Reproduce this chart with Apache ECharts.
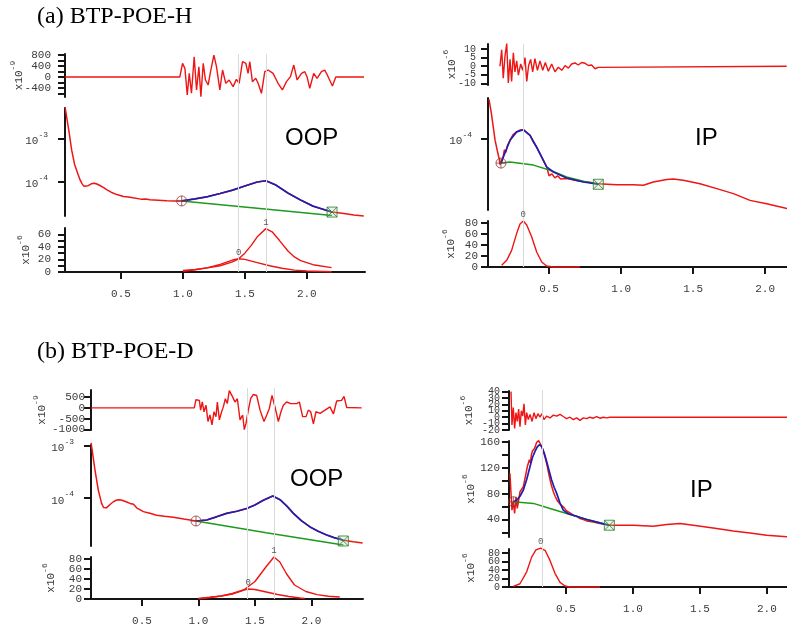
<!DOCTYPE html>
<html><head><meta charset="utf-8">
<script src="https://cdn.jsdelivr.net/npm/echarts@6/dist/echarts.min.js"></script>
<style>html,body{margin:0;padding:0;background:#fff}#c{width:787px;height:635px}</style>
</head><body><div id="c"></div>
<script>
// ---------------- DATA ----------------
const xTickValues = [0.5, 1.0, 1.5, 2.0];

// (a) BTP-POE-H, OOP
const aOopResidual = [[0.05,0],[0.975,0],[0.997,497],[1.016,315],[1.035,-655],[1.051,133],[1.069,-594],[1.091,739],[1.110,-473],[1.129,376],[1.145,-715],[1.164,497],[1.182,-109],[1.204,-291],[1.223,194],[1.250,800],[1.271,376],[1.298,-473],[1.320,255],[1.346,-230],[1.373,-109],[1.405,-352],[1.432,-85],[1.454,-230],[1.481,558],[1.508,497],[1.526,133],[1.540,558],[1.561,-170],[1.588,-48],[1.607,-230],[1.634,-594],[1.661,194],[1.688,255],[1.728,133],[1.768,-230],[1.803,-473],[1.836,-170],[1.868,12],[1.895,436],[1.922,-109],[1.957,133],[1.984,194],[2.002,12],[2.024,-412],[2.056,133],[2.083,-48],[2.118,194],[2.145,255],[2.172,12],[2.207,-327],[2.234,0],[2.462,0]];
const aOopData = [[0.050,5.2e-3],[0.080,1.5e-3],[0.102,5.5e-4],[0.125,2.6e-4],[0.150,1.6e-4],[0.170,1.12e-4],[0.185,9.2e-5],[0.200,8.0e-5],[0.215,7.7e-5],[0.235,8.2e-5],[0.260,9.1e-5],[0.285,9.4e-5],[0.305,9.0e-5],[0.330,8.3e-5],[0.360,7.4e-5],[0.387,6.6e-5],[0.420,5.8e-5],[0.467,5.1e-5],[0.520,4.6e-5],[0.560,4.5e-5],[0.596,4.3e-5],[0.660,4.0e-5],[0.700,4.05e-5],[0.733,3.85e-5],[0.800,3.75e-5],[0.871,3.65e-5],[0.930,3.6e-5],[0.990,3.63e-5],[1.1,4.07e-5],[1.2,4.57e-5],[1.3,5.4e-5],[1.4,6.46e-5],[1.5,8.1e-5],[1.6,1.0e-4],[1.67,1.07e-4],[1.75,8.5e-5],[1.85,5.5e-5],[1.95,3.8e-5],[2.05,2.75e-5],[2.15,2.24e-5],[2.204,2.0e-5],[2.30,1.85e-5],[2.38,1.72e-5],[2.46,1.62e-5]];
const aOopFit = [[0.99,3.63e-5],[1.1,4.07e-5],[1.2,4.57e-5],[1.3,5.4e-5],[1.4,6.46e-5],[1.5,8.1e-5],[1.6,1.0e-4],[1.67,1.07e-4],[1.75,8.5e-5],[1.85,5.5e-5],[1.95,3.8e-5],[2.05,2.75e-5],[2.15,2.24e-5],[2.204,2.0e-5]];
const aOopBaseline = [[0.99,3.63e-5],[1.6,2.45e-5],[2.204,1.66e-5]];
const aOopStart = [0.99, 3.63e-5];
const aOopEnd = [2.204, 2.0e-5];
const aOopPeak0 = [[1.0,1],[1.1,3.5],[1.2,7],[1.3,12],[1.4,19],[1.45,21],[1.5,20],[1.6,15],[1.7,10],[1.8,6],[1.9,3],[2.0,1.5],[2.2,0.5]];
const aOopPeak1 = [[1.0,2.5],[1.1,4],[1.2,6.5],[1.3,10],[1.4,16],[1.45,21],[1.5,30],[1.55,42],[1.6,56],[1.67,69],[1.72,64],[1.78,50],[1.85,33],[1.9,24],[1.95,18],[2.05,11.6],[2.2,7]];
const aOopPeakNames = [[1.45,21,'0'],[1.67,69,'1']];
const aOopGuides = [1.45, 1.67];
const aOopResLabels = [-400, 0, 400, 800];
const aOopResTicks = [-600, -400, -200, 0, 200, 400, 600, 800];
const aOopMainLabels = [1e-4, 1e-3];
const aOopPeakLabels = [0, 20, 40, 60];
const aOopPeakTicks = [0, 10, 20, 30, 40, 50, 60];

// (a) BTP-POE-H, IP
const aIpResidual = [[0.159,0],[0.171,9.6],[0.182,-7],[0.194,5.9],[0.206,13.3],[0.217,-9.8],[0.229,4],[0.240,-8.9],[0.252,7.8],[0.263,-3.3],[0.275,3.1],[0.287,-5.2],[0.303,1.3],[0.317,-2.4],[0.333,5],[0.345,-8.9],[0.358,0.4],[0.372,4],[0.386,-3.3],[0.402,4.4],[0.419,-2.4],[0.437,3.1],[0.456,-2.4],[0.474,2.2],[0.495,-3],[0.518,1.3],[0.541,-3.3],[0.564,-0.6],[0.588,-2.4],[0.611,0.4],[0.634,-1.1],[0.657,1.3],[0.680,1.9],[0.703,0.7],[0.726,2.2],[0.750,1.7],[0.773,0.4],[0.796,0.7],[0.819,-1.5],[0.842,-0.7],[0.854,0],[2.15,0]];
const aIpData = [[0.083,2.76e-4],[0.100,1.9e-4],[0.125,9.7e-5],[0.140,7.5e-5],[0.148,6.6e-5],[0.155,5.9e-5],[0.159,5.2e-5],[0.166,5.4e-5],[0.175,5.9e-5],[0.182,6.4e-5],[0.190,7.6e-5],[0.200,7.1e-5],[0.210,8.4e-5],[0.229,9.7e-5],[0.250,1.12e-4],[0.275,1.2e-4],[0.300,1.26e-4],[0.321,1.27e-4],[0.345,1.18e-4],[0.368,1.1e-4],[0.390,9.3e-5],[0.414,8.1e-5],[0.449,6.3e-5],[0.483,4.9e-5],[0.500,3.9e-5],[0.520,4.1e-5],[0.540,3.7e-5],[0.560,3.9e-5],[0.580,3.6e-5],[0.622,3.63e-5],[0.715,3.39e-5],[0.780,3.3e-5],[0.842,3.19e-5],[0.969,3.11e-5],[1.085,3.11e-5],[1.155,3.06e-5],[1.224,3.33e-5],[1.317,3.54e-5],[1.363,3.6e-5],[1.432,3.48e-5],[1.548,3.19e-5],[1.664,2.81e-5],[1.780,2.47e-5],[1.895,2.08e-5],[2.011,1.91e-5],[2.152,1.69e-5]];
const aIpFit = [[0.166,5.4e-5],[0.182,6.3e-5],[0.229,9.7e-5],[0.275,1.2e-4],[0.321,1.27e-4],[0.368,1.1e-4],[0.414,8.1e-5],[0.449,6.3e-5],[0.483,4.9e-5],[0.530,4.3e-5],[0.622,3.69e-5],[0.738,3.33e-5],[0.842,3.14e-5]];
const aIpBaseline = [[0.166,5.4e-5],[0.229,5.56e-5],[0.391,5.13e-5],[0.507,4.49e-5],[0.622,3.78e-5],[0.738,3.39e-5],[0.842,3.14e-5]];
const aIpStart = [0.166, 5.4e-5];
const aIpEnd = [0.842, 3.14e-5];
const aIpPeak0 = [[0.171,3],[0.206,12],[0.240,30],[0.275,60.6],[0.298,77.6],[0.321,83],[0.345,75.8],[0.379,54.5],[0.414,27],[0.449,9],[0.483,1.8],[0.530,0],[0.715,0]];
const aIpPeakNames = [[0.321,83,'0']];
const aIpGuides = [0.32];
const aIpResLabels = [-10, -5, 0, 5, 10];
const aIpMainLabels = [1e-4];
const aIpPeakLabels = [0, 20, 40, 60, 80];

// (b) BTP-POE-D, OOP
const bOopResidual = [[0.05,0],[0.963,0],[0.978,379],[1.008,348],[1.019,-106],[1.034,273],[1.049,-182],[1.067,121],[1.084,-636],[1.102,-333],[1.120,-788],[1.137,-182],[1.155,-409],[1.167,273],[1.185,-561],[1.205,-182],[1.220,45],[1.238,424],[1.255,197],[1.273,803],[1.288,652],[1.303,500],[1.323,273],[1.344,424],[1.368,-561],[1.391,-333],[1.406,-1015],[1.421,-712],[1.441,-106],[1.462,424],[1.486,621],[1.515,576],[1.545,-106],[1.580,-636],[1.604,-333],[1.627,-30],[1.651,576],[1.677,45],[1.707,-636],[1.730,-182],[1.751,121],[1.781,273],[1.816,197],[1.869,197],[1.893,273],[1.922,-409],[1.952,-409],[1.972,-106],[1.993,-182],[2.017,-742],[2.040,-182],[2.076,-258],[2.120,-106],[2.164,45],[2.194,-288],[2.223,318],[2.267,348],[2.288,530],[2.312,15],[2.444,0]];
const bOopData = [[0.050,1.15e-3],[0.084,3.5e-4],[0.114,1.41e-4],[0.143,7.9e-5],[0.160,6.6e-5],[0.173,6.3e-5],[0.185,6.5e-5],[0.202,7.1e-5],[0.225,7.8e-5],[0.247,8.5e-5],[0.270,9.1e-5],[0.291,9.3e-5],[0.315,9.2e-5],[0.335,8.9e-5],[0.365,8.4e-5],[0.394,7.9e-5],[0.425,7.6e-5],[0.453,6.5e-5],[0.512,5.5e-5],[0.570,5.1e-5],[0.630,4.7e-5],[0.700,4.5e-5],[0.778,4.3e-5],[0.870,3.95e-5],[0.978,3.63e-5],[1.073,3.8e-5],[1.16,4.37e-5],[1.25,5.1e-5],[1.34,5.6e-5],[1.427,6.3e-5],[1.5,7.4e-5],[1.574,9.1e-5],[1.657,1.1e-4],[1.722,9.3e-5],[1.78,7.1e-5],[1.84,5.1e-5],[1.91,3.7e-5],[1.987,2.8e-5],[2.06,2.3e-5],[2.135,1.95e-5],[2.2,1.74e-5],[2.282,1.55e-5],[2.37,1.45e-5],[2.453,1.38e-5]];
const bOopFit = [[0.978,3.63e-5],[1.073,3.8e-5],[1.16,4.37e-5],[1.25,5.1e-5],[1.34,5.6e-5],[1.427,6.3e-5],[1.5,7.4e-5],[1.574,9.1e-5],[1.657,1.1e-4],[1.722,9.3e-5],[1.78,7.1e-5],[1.84,5.1e-5],[1.91,3.7e-5],[1.987,2.8e-5],[2.06,2.3e-5],[2.135,1.95e-5],[2.2,1.74e-5],[2.282,1.55e-5]];
const bOopBaseline = [[0.978,3.63e-5],[1.6,2.15e-5],[2.282,1.26e-5]];
const bOopStart = [0.978, 3.63e-5];
const bOopEnd = [2.282, 1.5e-5];
const bOopPeak0 = [[1.0,0.5],[1.1,3],[1.2,6],[1.3,11],[1.4,18],[1.44,20],[1.5,19],[1.6,14],[1.7,9],[1.8,5],[1.9,2],[1.94,1]];
const bOopPeak1 = [[1.0,1.3],[1.1,3.5],[1.2,6],[1.3,10],[1.4,18],[1.5,35],[1.6,65],[1.668,84],[1.72,74],[1.78,50],[1.85,28],[1.95,15],[2.05,8.7],[2.15,5.5],[2.25,4]];
const bOopPeakNames = [[1.44,20,'0'],[1.668,84,'1']];
const bOopGuides = [1.427, 1.668];
const bOopResLabels = [-1000, -500, 0, 500];
const bOopMainLabels = [1e-4, 1e-3];
const bOopPeakLabels = [0, 20, 40, 60, 80];

// (b) BTP-POE-D, IP
const bIpResidual = [[0.090,40],[0.097,-12],[0.107,15.3],[0.117,-17.5],[0.127,7.1],[0.137,-6.6],[0.147,12.6],[0.157,-14.8],[0.167,9.9],[0.177,1.6],[0.187,20.8],[0.197,-12],[0.207,7.1],[0.219,-3.8],[0.232,4.4],[0.247,-6.6],[0.262,7.1],[0.276,-2.2],[0.291,5.5],[0.306,0],[0.321,5.5],[0.336,-3.8],[0.356,1.6],[0.381,-1.1],[0.406,3.3],[0.431,1.6],[0.456,4.4],[0.480,1.1],[0.505,-2.2],[0.530,0],[0.555,-3.8],[0.580,-1.1],[0.605,-4.9],[0.630,-1.1],[0.655,-2.2],[0.679,0],[0.704,-1.6],[0.729,1.1],[0.754,-1.6],[0.779,0],[0.804,-1.1],[0.829,0],[2.15,0]];
const bIpData = [[0.082,111.7],[0.090,80.5],[0.097,54.5],[0.107,67.5],[0.117,49.4],[0.127,75.3],[0.137,57.2],[0.147,70],[0.157,83],[0.167,80.5],[0.182,90.8],[0.197,106.4],[0.212,122],[0.220,119],[0.227,132.4],[0.235,128],[0.242,140.2],[0.250,146],[0.257,148],[0.265,150],[0.272,153.2],[0.280,159],[0.287,158.4],[0.296,162],[0.306,158.4],[0.319,153],[0.331,145.4],[0.346,135],[0.361,122],[0.376,106.4],[0.391,93.5],[0.406,83],[0.421,75.3],[0.436,69],[0.456,63.9],[0.480,59.7],[0.505,53.4],[0.530,50.3],[0.555,46.7],[0.580,45.2],[0.605,41.6],[0.630,40],[0.655,37.9],[0.704,36.3],[0.754,33.8],[0.824,31.2],[1.003,31.2],[1.152,29.6],[1.252,32.2],[1.351,33.8],[1.451,31.2],[1.625,26],[1.749,22.3],[1.874,19.2],[1.998,15.6],[2.15,13.2]];
const bIpFit = [[0.107,67.5],[0.132,70],[0.157,76],[0.182,85.7],[0.207,102],[0.232,122],[0.250,136],[0.269,145.4],[0.285,152],[0.301,155.8],[0.319,153],[0.338,143],[0.356,129.8],[0.375,115],[0.393,101.3],[0.412,90],[0.431,80.5],[0.455,66],[0.480,54.5],[0.518,49],[0.555,46.7],[0.655,40],[0.754,34.8],[0.824,31.2]];
const bIpBaseline = [[0.107,67.5],[0.257,65],[0.381,57.2],[0.505,49.4],[0.630,41.6],[0.754,34.8],[0.824,31.2]];
const bIpStart = [0.107, 67.5];
const bIpEnd = [0.824, 31.2];
const bIpPeak0 = [[0.107,1.5],[0.157,7.7],[0.207,36],[0.244,70.8],[0.276,87.7],[0.311,92.3],[0.346,86],[0.381,63],[0.418,32.3],[0.456,10.8],[0.493,2.3],[0.530,0],[0.754,0]];
const bIpPeakNames = [[0.311,92.3,'0']];
const bIpGuides = [0.319];
const bIpResLabels = [-20, -10, 0, 10, 20, 30, 40];
const bIpMainLabels = [40, 80, 120, 160];
const bIpMainTicks = [20, 40, 60, 80, 100, 120, 140, 160];
const bIpPeakLabels = [0, 20, 40, 60, 80];

// ---------------- BUILD ----------------
const MONO = '"Liberation Mono","DejaVu Sans Mono",monospace';
const AX = '#151515', LBL = '#3a3a3a';
const RED = '#ee1515', BLUE = '#1e1eb0', GREEN = '#1e9a1e', GUIDE = '#dadada';
const grid = [], xAxis = [], yAxis = [], series = [];

function addGrid(left, right, top, bottom) {
  grid.push({left: left, top: top, width: right - left, height: bottom - top, show: false, containLabel: false, outerBoundsMode: 'none'});
  return grid.length - 1;
}
function addX(gi, min, max, visible) {
  if (!visible) {
    xAxis.push({type: 'value', gridIndex: gi, min: min, max: max, show: false});
  } else {
    xAxis.push({type: 'value', gridIndex: gi, min: min, max: max, position: 'bottom',
      axisLine: {show: true, onZero: false, lineStyle: {color: AX, width: 2}},
      axisTick: {show: true, inside: false, length: 7, lineStyle: {color: AX, width: 2}, customValues: xTickValues},
      axisLabel: {show: true, margin: 17, customValues: xTickValues, hideOverlap: false,
        formatter: v => v.toFixed(1), fontFamily: MONO, fontSize: 11, color: LBL},
      splitLine: {show: false}});
  }
  return xAxis.length - 1;
}
const supRich = {b: {fontFamily: MONO, fontSize: 11, color: LBL, lineHeight: 16, verticalAlign: 'bottom'},
                 s: {fontFamily: MONO, fontSize: 8, color: LBL, lineHeight: 16, verticalAlign: 'top'}};
function labelStyle(o, values) {
  return {show: true, margin: o.margin, customValues: values, hideOverlap: false,
    fontFamily: MONO, fontSize: o.fs || 11, color: LBL,
    formatter: o.log ? (v => '{b|10}{s|' + Math.round(Math.log10(v)) + '}') : (v => String(v)), rich: supRich};
}
function addY(gi, o) {
  const main = o.split ? o.labels.filter((v, i) => i % 2 === 0) : o.labels;
  const ax = {type: o.log ? 'log' : 'value', gridIndex: gi, min: o.min, max: o.max, position: 'left',
    axisLine: {show: true, onZero: false, lineStyle: {color: AX, width: 2}},
    axisTick: {show: true, inside: false, length: 7, lineStyle: {color: AX, width: 2}, customValues: o.ticks || o.labels},
    axisLabel: labelStyle(o, main),
    splitLine: {show: false}};
  if (o.log) ax.logBase = 10;
  if (o.exp) {
    ax.name = '{b|x10}{s|' + o.exp + '}';
    ax.nameLocation = 'middle'; ax.nameRotate = 90; ax.nameGap = o.gap; ax.nameMoveOverlap = false;
    ax.nameTextStyle = {rich: supRich};
  }
  yAxis.push(ax);
  const idx = yAxis.length - 1;
  if (o.split) {
    // second label-only axis on the same side, carrying the alternate labels
    yAxis.push({type: 'value', gridIndex: gi, min: o.min, max: o.max, position: 'left', offset: 0,
      axisLine: {show: false}, axisTick: {show: false}, splitLine: {show: false},
      axisLabel: labelStyle(o, o.labels.filter((v, i) => i % 2 === 1))});
  }
  return idx;
}
function addLine(xi, yi, data, color, width, z) {
  series.push({type: 'line', xAxisIndex: xi, yAxisIndex: yi, data: data, showSymbol: false, symbol: 'none',
    lineStyle: {color: color, width: width}, itemStyle: {color: color}, z: z || 2, silent: true, animation: false, clip: false});
}
const CIRCLE = 'path://M10,0A10,10 0 1 1 -10,0A10,10 0 1 1 10,0ZM-10,0L10,0M0,-10L0,10';
const SQUARE = 'path://M0,0L10,0L10,10L0,10ZM0,0L10,10M10,0L0,10';
function addMarkers(xi, yi, start, end) {
  series.push({type: 'scatter', xAxisIndex: xi, yAxisIndex: yi, data: [start], symbol: CIRCLE, symbolSize: 10,
    itemStyle: {color: 'rgba(0,0,0,0)', borderColor: '#8e3a3a', borderWidth: 1}, z: 5, silent: true, animation: false, clip: false});
  series.push({type: 'scatter', xAxisIndex: xi, yAxisIndex: yi, data: [end], symbol: SQUARE, symbolSize: 10,
    itemStyle: {color: 'rgba(180,220,180,0.35)', borderColor: '#2c7d2c', borderWidth: 1}, z: 5, silent: true, animation: false, clip: false});
}
function addPeakNames(xi, yi, names) {
  series.push({type: 'scatter', xAxisIndex: xi, yAxisIndex: yi, data: names, symbolSize: 1,
    itemStyle: {color: 'rgba(0,0,0,0)'}, z: 6, silent: true, animation: false, clip: false,
    label: {show: true, position: 'top', distance: 1, formatter: p => p.value[2], fontFamily: MONO, fontSize: 9, color: '#333'}});
}
function addGuides(gi, xMin, xMax, guides) {
  const xi = addX(gi, xMin, xMax, false);
  yAxis.push({type: 'value', gridIndex: gi, min: 0, max: 1, show: false});
  const yi = yAxis.length - 1;
  series.push({type: 'line', xAxisIndex: xi, yAxisIndex: yi, data: [], z: 1, silent: true, animation: false,
    markLine: {silent: true, symbol: 'none', label: {show: false}, animation: false,
      lineStyle: {color: GUIDE, width: 1, type: 'solid'}, data: guides.map(g => ({xAxis: g}))}});
}

function panel(p) {
  let g = addGrid(p.left, p.right, p.res.top, p.res.bottom);
  let xi = addX(g, p.xMin, p.xMax, false);
  let yi = addY(g, p.res);
  addLine(xi, yi, p.res.data, RED, 1.4, 3);
  g = addGrid(p.left, p.right, p.main.top, p.main.bottom);
  xi = addX(g, p.xMin, p.xMax, false);
  yi = addY(g, p.main);
  addLine(xi, yi, p.main.data, RED, 1.5, 2);
  addLine(xi, yi, p.main.baseline, GREEN, 1.5, 3);
  addLine(xi, yi, p.main.fit, BLUE, 1.7, 4);
  addMarkers(xi, yi, p.main.start, p.main.end);
  g = addGrid(p.left, p.right, p.peak.top, p.peak.bottom);
  xi = addX(g, p.xMin, p.xMax, true);
  yi = addY(g, p.peak);
  p.peak.curves.forEach(c => addLine(xi, yi, c, RED, 1.4, 3));
  addPeakNames(xi, yi, p.peak.names);
  g = addGrid(p.left, p.right, p.guideTop, p.peak.bottom);
  addGuides(g, p.xMin, p.xMax, p.guides);
}

panel({left: 65, right: 365, xMin: 0.048, xMax: 2.47, guideTop: 54, guides: aOopGuides,
  res: {top: 54, bottom: 97, min: -730, max: 840, data: aOopResidual, labels: aOopResLabels, ticks: aOopResTicks, exp: '-9', gap: 40, margin: 14},
  main: {top: 108, bottom: 216, log: true, min: Math.pow(10, -4.79), max: Math.pow(10, -2.28), labels: aOopMainLabels, margin: 17,
         data: aOopData, fit: aOopFit, baseline: aOopBaseline, start: aOopStart, end: aOopEnd},
  peak: {top: 228, bottom: 272, min: 0, max: 70, labels: aOopPeakLabels, ticks: aOopPeakTicks, exp: '-6', gap: 33, margin: 14,
         curves: [aOopPeak0, aOopPeak1], names: aOopPeakNames}});

panel({left: 488, right: 787, xMin: 0.076, xMax: 2.152, guideTop: 44, guides: aIpGuides,
  res: {top: 44, bottom: 85, min: -11, max: 13, data: aIpResidual, labels: aIpResLabels, exp: '-6', gap: 30, fs: 10, margin: 12, split: true},
  main: {top: 98, bottom: 210, log: true, min: Math.pow(10, -4.789), max: Math.pow(10, -3.544), labels: aIpMainLabels, margin: 16,
         data: aIpData, fit: aIpFit, baseline: aIpBaseline, start: aIpStart, end: aIpEnd},
  peak: {top: 221, bottom: 267, min: 0, max: 83, labels: aIpPeakLabels, exp: '-6', gap: 31, margin: 10, split: true,
         curves: [aIpPeak0], names: aIpPeakNames}});

panel({left: 91, right: 363, xMin: 0.049, xMax: 2.456, guideTop: 388, guides: bOopGuides,
  res: {top: 390, bottom: 430, min: -1030, max: 830, data: bOopResidual, labels: bOopResLabels, exp: '-9', gap: 43, margin: 6, split: true},
  main: {top: 445, bottom: 546, log: true, min: Math.pow(10, -4.92), max: Math.pow(10, -2.98), labels: bOopMainLabels, margin: 17,
         data: bOopData, fit: bOopFit, baseline: bOopBaseline, start: bOopStart, end: bOopEnd},
  peak: {top: 557, bottom: 599, min: 0, max: 84, labels: bOopPeakLabels, exp: '-6', gap: 34, margin: 9, split: true,
         curves: [bOopPeak0, bOopPeak1], names: bOopPeakNames}});

panel({left: 509, right: 787, xMin: 0.075, xMax: 2.150, guideTop: 390, guides: bIpGuides,
  res: {top: 391, bottom: 430, min: -20, max: 41, data: bIpResidual, labels: bIpResLabels, exp: '-6', gap: 34, fs: 10, margin: 9, split: true},
  main: {top: 441, bottom: 537, min: 13, max: 161.5, labels: bIpMainLabels, ticks: bIpMainTicks, exp: '-6', gap: 32, margin: 9,
         data: bIpData, fit: bIpFit, baseline: bIpBaseline, start: bIpStart, end: bIpEnd},
  peak: {top: 549, bottom: 587, min: 0, max: 90, labels: bIpPeakLabels, exp: '-6', gap: 32, fs: 10, margin: 9, split: true,
         curves: [bIpPeak0], names: bIpPeakNames}});

const txt = (s, x, y, font) => ({type: 'text', x: x, y: y, silent: true,
  style: {text: s, font: font, fill: '#000', align: 'left', verticalAlign: 'middle'}});
const SERIF = '24px "Liberation Serif","Times New Roman",serif';
const SANS = '24px "Liberation Sans",Arial,sans-serif';

const chart = echarts.init(document.getElementById('c'), null, {renderer: 'canvas'});
chart.setOption({
  animation: false, backgroundColor: '#fff',
  grid: grid, xAxis: xAxis, yAxis: yAxis, series: series,
  graphic: [
    txt('(a) BTP-POE-H', 37, 17, SERIF),
    txt('(b) BTP-POE-D', 37, 352, SERIF),
    txt('OOP', 285, 138, SANS),
    txt('IP', 695, 138, SANS),
    txt('OOP', 290, 479, SANS),
    txt('IP', 690, 490, SANS)
  ]
});
</script></body></html>
